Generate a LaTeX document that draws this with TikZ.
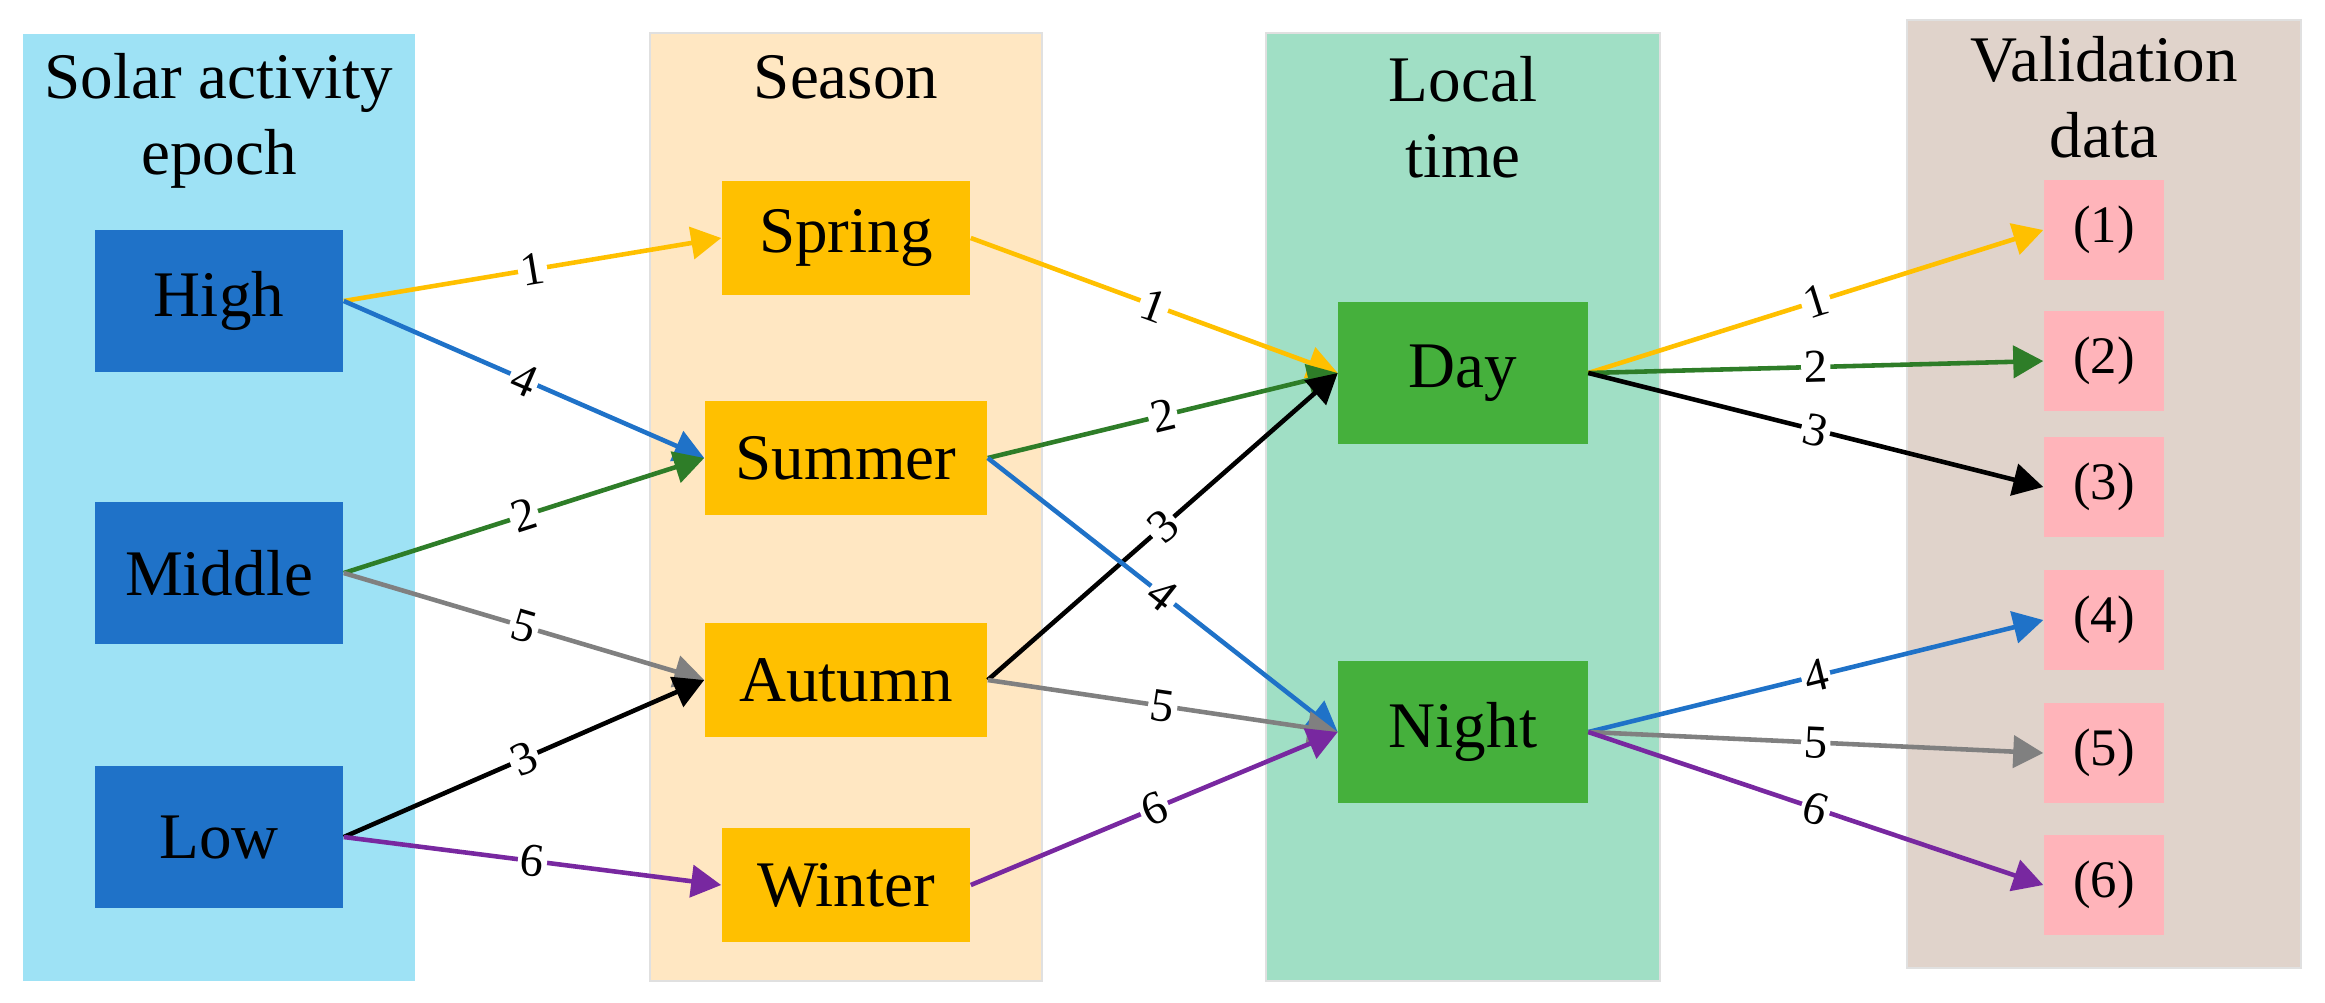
\documentclass[tikz,border=0pt]{standalone}
\usepackage{fontspec}
\setmainfont{Liberation Serif}
\usetikzlibrary{arrows.meta}

\definecolor{solarbg}{RGB}{158,226,245}
\definecolor{seasonbg}{RGB}{255,231,194}
\definecolor{timebg}{RGB}{160,223,197}
\definecolor{databg}{RGB}{224,211,203}
\definecolor{solarfill}{RGB}{31,114,200}
\definecolor{seasonfill}{RGB}{255,192,0}
\definecolor{timefill}{RGB}{69,176,60}
\definecolor{datafill}{RGB}{255,180,186}
\definecolor{linkA}{RGB}{255,192,0}
\definecolor{linkB}{RGB}{46,125,40}
\definecolor{linkC}{RGB}{0,0,0}
\definecolor{linkD}{RGB}{31,114,200}
\definecolor{linkE}{RGB}{128,128,128}
\definecolor{linkF}{RGB}{120,40,160}

\tikzset{
  panel/.style={draw=black!12, line width=0.4pt},
  head/.style={anchor=north, inner sep=0pt, align=center, font=\fontsize{18.5}{21.6}\selectfont},
  catbox/.style={inner sep=0pt, font=\fontsize{18.5}{20}\selectfont},
  solarbox/.style={catbox, fill=solarfill, minimum width=2.48cm, minimum height=1.42cm},
  seasonbox/.style={catbox, fill=seasonfill, minimum height=1.13cm},
  timebox/.style={catbox, fill=timefill, minimum width=2.49cm, minimum height=1.42cm},
  databox/.style={inner sep=0pt, fill=datafill, minimum width=1.2cm, minimum height=1cm, font=\fontsize{15}{16}\selectfont},
  link/.style={line width=1.3pt, -{Triangle[length=0.3cm, width=0.32cm]}},
  lbl/.style={midway, sloped, fill=white, inner sep=0.8pt, text=black, font=\fontsize{13.4}{14}\selectfont}
}

\begin{document}
\begin{tikzpicture}[x=0.01cm, y=-0.01cm]
	\useasboundingbox (0,0) rectangle (2325,1002);

	% column backgrounds
	\fill[solarbg] (23,34) rectangle (415,981);
	\fill[seasonbg, panel] (650,33) rectangle (1042,981);
	\fill[timebg, panel] (1266,33) rectangle (1660,981);
	\fill[databg, panel] (1907,20) rectangle (2301,968);

	% column titles
	\node[head] (tsolar) at (219,53) {Solar activity\\epoch};
	\node[head] (tseason) at (846,55) {Season};
	\node[head] (ttime) at (1463,56) {Local\\time};
	\node[head] (tdata) at (2104,36) {Validation\\data};

	% solar activity epoch
	\node[solarbox] (high) at (219,301) {High};
	\node[solarbox] (middle) at (219,573) {Middle};
	\node[solarbox] (low) at (219,837) {Low};

	% season
	\node[seasonbox, minimum width=2.48cm] (spring) at (846,238) {Spring};
	\node[seasonbox, minimum width=2.82cm] (summer) at (846,458) {Summer};
	\node[seasonbox, minimum width=2.82cm] (autumn) at (846,680) {Autumn};
	\node[seasonbox, minimum width=2.48cm] (winter) at (846,885) {Winter};

	% local time
	\node[timebox] (day) at (1463,373) {Day};
	\node[timebox] (night) at (1463,732) {Night};

	% validation data
	\foreach \k/\y in {1/230, 2/361, 3/487, 4/620, 5/753, 6/885}
		\node[databox] (d\k) at (2104,\y) {(\k)};

	% links
	\foreach \a/\b/\n/\col in {high/spring/1/linkA, high/summer/4/linkD,
			middle/summer/2/linkB, middle/autumn/5/linkE,
			low/autumn/3/linkC, low/winter/6/linkF,
			spring/day/1/linkA, summer/day/2/linkB, autumn/day/3/linkC,
			summer/night/4/linkD, autumn/night/5/linkE, winter/night/6/linkF,
			day/d1/1/linkA, day/d2/2/linkB, day/d3/3/linkC,
			night/d4/4/linkD, night/d5/5/linkE, night/d6/6/linkF}
		\draw[link, color=\col] (\a.east) -- node[lbl] {\n} (\b.west);
\end{tikzpicture}
\end{document}
